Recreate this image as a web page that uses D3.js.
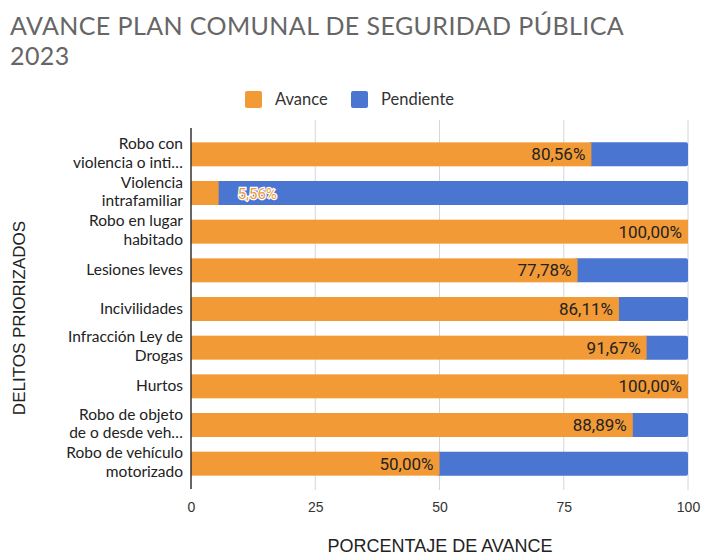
<!DOCTYPE html>
<html>
<head>
<meta charset="utf-8">
<script src="https://cdn.jsdelivr.net/npm/d3@7"></script>
<style>
  body { margin: 0; background: #fff; }
  text { font-family: "Open Sans", sans-serif; }
</style>
</head>
<body>
<div id="chart"></div>
<script>
// Data
const categories = [
  ["Robo con", "violencia o inti…"],
  ["Violencia", "intrafamiliar"],
  ["Robo en lugar", "habitado"],
  ["Lesiones leves"],
  ["Incivilidades"],
  ["Infracción Ley de", "Drogas"],
  ["Hurtos"],
  ["Robo de objeto", "de o desde veh…"],
  ["Robo de vehículo", "motorizado"]
];
const avance = [80.56, 5.56, 100, 77.78, 86.11, 91.67, 100, 88.89, 50];
const pendiente = [19.44, 94.44, 0, 22.22, 13.89, 8.33, 0, 11.11, 50];
const xTicks = [0, 25, 50, 75, 100];

const orange = "#f29a36";
const blue = "#4a76d2";

const svg = d3.select("#chart")
  .append("svg")
  .attr("width", 701)
  .attr("height", 556);

const x = d3.scaleLinear().domain([0, 100]).range([191, 688]);
const y = d3.scaleBand()
  .domain(d3.range(categories.length))
  .range([135, 483])
  .paddingInner(0.38)
  .paddingOuter(0.19);

// Title
const title = svg.append("text")
  .attr("x", 10)
  .attr("y", 35)
  .style("font-family", "Lato, sans-serif")
  .style("font-size", "25px")
  .style("letter-spacing", "0.4px")
  .style("fill", "#666");
title.append("tspan").attr("x", 10).text("AVANCE PLAN COMUNAL DE SEGURIDAD PÚBLICA");
title.append("tspan").attr("x", 10).attr("dy", 30).text("2023");

// Legend
const legend = svg.append("g").attr("transform", "translate(245, 91)");
[["Avance", orange, 0], ["Pendiente", blue, 106]].forEach(function (d) {
  legend.append("rect")
    .attr("x", d[2]).attr("y", 0)
    .attr("width", 17).attr("height", 17)
    .attr("rx", 2)
    .style("fill", d[1]);
  legend.append("text")
    .attr("x", d[2] + 30).attr("y", 14)
    .style("font-family", "Lato, sans-serif")
    .style("font-size", "16.5px")
    .style("fill", "#333")
    .text(d[0]);
});

// Gridlines
svg.selectAll(".grid")
  .data(xTicks.slice(1))
  .enter()
  .append("line")
  .attr("x1", d => x(d)).attr("x2", d => x(d))
  .attr("y1", 120).attr("y2", 490)
  .style("stroke", "#d6d6d6")
  .style("stroke-width", 1);

// Bars
const rows = svg.selectAll(".row")
  .data(categories)
  .enter()
  .append("g")
  .attr("class", "row");

rows.append("rect")
  .attr("x", (d, i) => x(avance[i]) - 3)
  .attr("y", (d, i) => y(i))
  .attr("width", (d, i) => pendiente[i] > 0 ? x(100) - x(avance[i]) + 3 : 0)
  .attr("height", y.bandwidth())
  .attr("rx", 2)
  .style("fill", blue);

rows.append("rect")
  .attr("x", x(0))
  .attr("y", (d, i) => y(i))
  .attr("width", (d, i) => x(avance[i]) - x(0))
  .attr("height", y.bandwidth())
  .style("fill", orange);

// Value labels
const fmt = v => v.toFixed(2).replace(".", ",") + "%";
rows.append("text")
  .attr("x", (d, i) => avance[i] < 20 ? x(avance[i]) + 19 : x(avance[i]) - 6)
  .attr("y", (d, i) => y(i) + y.bandwidth() / 2 + 6)
  .attr("text-anchor", (d, i) => avance[i] < 20 ? "start" : "end")
  .style("font-family", "Roboto, sans-serif")
  .style("font-size", (d, i) => avance[i] < 20 ? "15px" : "17px")
  .style("fill", (d, i) => avance[i] < 20 ? orange : "#222")
  .style("stroke", (d, i) => avance[i] < 20 ? "#fff" : "none")
  .style("stroke-width", 2.5)
  .style("paint-order", "stroke")
  .text((d, i) => fmt(avance[i]));

// Category labels
rows.append("text")
  .attr("text-anchor", "end")
  .style("font-family", "Lato, sans-serif")
  .style("font-size", "15.5px")
  .style("fill", "#222")
  .each(function (d, i) {
    const t = d3.select(this);
    const cy = y(i) + y.bandwidth() / 2;
    const start = d.length > 1 ? cy - 5.5 : cy + 5;
    d.forEach(function (line, j) {
      t.append("tspan")
        .attr("x", 183)
        .attr("y", start + j * 18.7)
        .text(line);
    });
  });

// Axis line
svg.append("line")
  .attr("x1", x(0)).attr("x2", x(0))
  .attr("y1", 128).attr("y2", 489)
  .style("stroke", "#333")
  .style("stroke-width", 1.5);

// X axis
const xAxis = svg.append("g")
  .attr("transform", "translate(0, 490)")
  .call(d3.axisBottom(x).tickValues(xTicks).tickSize(0).tickPadding(12));
xAxis.select(".domain").remove();
xAxis.selectAll("text")
  .style("font-family", "'Liberation Sans', Arial, sans-serif")
  .style("font-size", "14px")
  .style("fill", "#333");

// Axis titles
svg.append("text")
  .attr("x", 440)
  .attr("y", 552)
  .attr("text-anchor", "middle")
  .style("font-family", "'Liberation Sans', Arial, sans-serif")
  .style("font-size", "18px")
  .style("fill", "#222")
  .text("PORCENTAJE DE AVANCE");

svg.append("text")
  .attr("transform", "translate(25, 318) rotate(-90)")
  .attr("text-anchor", "middle")
  .style("font-family", "'Liberation Sans', Arial, sans-serif")
  .style("font-size", "17px")
  .style("fill", "#222")
  .text("DELITOS PRIORIZADOS");
</script>
</body>
</html>
